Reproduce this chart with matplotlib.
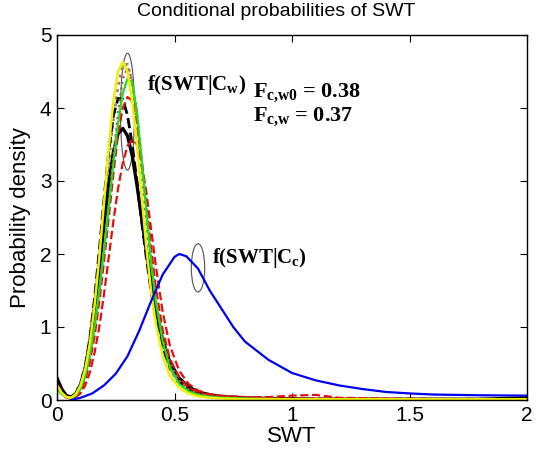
import matplotlib
matplotlib.use("Agg")
import matplotlib.pyplot as plt
from matplotlib.patches import Ellipse

plt.rcParams['font.family'] = ['Liberation Sans', 'DejaVu Sans']
plt.rcParams['mathtext.fontset'] = 'custom'
plt.rcParams['mathtext.rm'] = 'Liberation Serif:bold'
plt.rcParams['mathtext.it'] = 'Liberation Serif:bold'
plt.rcParams['mathtext.bf'] = 'Liberation Serif:bold'

# SWT grid shared by the f(SWT|Cw) curves
swt_w = [0, .02, .04, .06, .08, .10, .12, .14, .16, .18, .20, .22, .24, .26, .28,
         .30, .32, .34, .36, .38, .40, .42,
         .45, .48, .52, .56, .60, .65, .70,
         .80, .90, 1.0, 1.1, 1.2, 1.4, 1.6, 1.8, 2.0]

grey_dot = [0.22, 0.12, 0.05, 0.04, 0.10, 0.24, 0.48, 0.85, 1.35, 1.95, 2.6, 3.25, 3.85, 4.3, 4.58,
            4.6, 4.35, 3.85, 3.15, 2.45, 1.8, 1.3,
            0.75, 0.42, 0.22, 0.13, 0.08, 0.05, 0.03,
            0.02, 0.012, 0.01, 0.01, 0.01, 0.01, 0.01, 0.01, 0.01]
yellow = [0.2, 0.1, 0.04, 0.03, 0.08, 0.2, 0.42, 0.78, 1.3, 1.95, 2.7, 3.45, 4.1, 4.5, 4.63,
          4.5, 4.1, 3.5, 2.8, 2.1, 1.5, 1.05,
          0.6, 0.33, 0.17, 0.09, 0.05, 0.03, 0.02,
          0.01, 0.01, 0.01, 0.01, 0.01, 0.01, 0.01, 0.01, 0.01]
pink_dot = [0.2, 0.1, 0.04, 0.03, 0.06, 0.15, 0.33, 0.62, 1.0, 1.5, 2.05, 2.7, 3.35, 3.95, 4.4,
            4.55, 4.4, 3.95, 3.3, 2.6, 1.95, 1.4,
            0.85, 0.5, 0.27, 0.15, 0.09, 0.055, 0.035,
            0.02, 0.012, 0.01, 0.01, 0.01, 0.01, 0.01, 0.01, 0.01]
green = [0.15, 0.08, 0.04, 0.03, 0.06, 0.15, 0.33, 0.62, 1.0, 1.5, 2.05, 2.65, 3.25, 3.8, 4.2,
         4.4, 4.35, 3.95, 3.3, 2.6, 1.9, 1.35,
         0.8, 0.45, 0.22, 0.12, 0.07, 0.045, 0.03,
         0.02, 0.015, 0.012, 0.01, 0.01, 0.01, 0.01, 0.01, 0.01]
black_dash = [0.28, 0.13, 0.05, 0.04, 0.09, 0.22, 0.45, 0.85, 1.4, 2.05, 2.75, 3.4, 3.9, 4.13, 4.12,
              3.9, 3.5, 3.0, 2.45, 1.95, 1.5, 1.12,
              0.72, 0.45, 0.25, 0.15, 0.09, 0.055, 0.035,
              0.02, 0.015, 0.012, 0.01, 0.01, 0.01, 0.01, 0.01, 0.01]
red_dash1 = [0.22, 0.1, 0.04, 0.03, 0.05, 0.12, 0.27, 0.52, 0.88, 1.35, 1.9, 2.5, 3.1, 3.65, 4.0,
             4.15, 4.1, 3.8, 3.3, 2.7, 2.1, 1.55,
             0.95, 0.57, 0.3, 0.17, 0.1, 0.065, 0.045,
             0.03, 0.025, 0.02, 0.02, 0.015, 0.01, 0.01, 0.01, 0.01]
black_solid = [0.3, 0.15, 0.06, 0.04, 0.08, 0.2, 0.42, 0.78, 1.25, 1.8, 2.4, 2.95, 3.4, 3.65, 3.72,
               3.62, 3.35, 2.95, 2.5, 2.05, 1.62, 1.25,
               0.82, 0.52, 0.3, 0.18, 0.11, 0.07, 0.045,
               0.03, 0.02, 0.015, 0.01, 0.01, 0.01, 0.01, 0.01, 0.03]
red_dash2 = [0.18, 0.08, 0.03, 0.02, 0.04, 0.09, 0.2, 0.38, 0.65, 1.0, 1.45, 1.95, 2.45, 2.9, 3.25,
             3.48, 3.57, 3.5, 3.25, 2.85, 2.35, 1.85,
             1.2, 0.75, 0.4, 0.22, 0.13, 0.08, 0.06,
             0.04, 0.04, 0.06, 0.07, 0.03, 0.02, 0.015, 0.01, 0.01]

# f(SWT|Cc)
swt_c = [0.06, 0.10, 0.15, 0.20, 0.25, 0.30, 0.35, 0.40, 0.45, 0.50, 0.52, 0.55, 0.60,
         0.65, 0.70, 0.75, 0.80, 0.90, 1.0, 1.1, 1.2, 1.3, 1.4, 1.5, 1.6, 1.8, 2.0]
blue = [0.0, 0.03, 0.09, 0.2, 0.36, 0.6, 0.95, 1.35, 1.72, 1.96, 2.0, 1.97, 1.8,
        1.5, 1.25, 1.0, 0.8, 0.55, 0.37, 0.27, 0.2, 0.15, 0.11, 0.09, 0.075, 0.065, 0.06]

fig = plt.figure(figsize=(5.36, 4.51), dpi=100)
ax = fig.add_axes([57 / 536, 51 / 451, 470 / 536, 365 / 451])

ax.plot(swt_w, grey_dot, color='#808080', linestyle=':', lw=2)
ax.plot(swt_w, black_dash, color='black', linestyle='--', lw=2)
ax.plot(swt_w, black_solid, color='black', linestyle='-', lw=2.4)
ax.plot(swt_w, red_dash2, color='#e01010', linestyle='--', lw=1.6)
ax.plot(swt_w, red_dash1, color='#e01010', linestyle='--', lw=1.6)
ax.plot(swt_w, pink_dot, color='#c05050', linestyle=':', lw=1.6)
ax.plot(swt_w, green, color='#20dd20', linestyle='-', lw=1.6)
ax.plot(swt_w, yellow, color='#f0f000', linestyle='-', lw=1.8)
ax.plot(swt_c, blue, color='#0000ee', linestyle='-', lw=1.6)

ax.add_patch(Ellipse((0.30, 3.95), 0.06, 1.6, fill=False, edgecolor='#505050', lw=0.8))
ax.add_patch(Ellipse((0.60, 1.81), 0.057, 0.66, fill=False, edgecolor='#505050', lw=0.8))

ax.text(0.383, 4.31, r'$f(SWT|C_w)$', fontsize=15, va='center', ha='left')
ax.text(0.834, 4.21, r'$F_{c{,}w0}$ = 0.38', fontsize=16, va='center', ha='left',
        family='Liberation Serif', weight='bold')
ax.text(0.834, 3.88, r'$F_{c{,}w}$ = 0.37', fontsize=16, va='center', ha='left',
        family='Liberation Serif', weight='bold')
ax.text(0.66, 1.95, r'$f(SWT|C_c)$', fontsize=15, va='center', ha='left')

ax.set_xlim(0, 2)
ax.set_ylim(0, 5)
ax.set_xticks([0, 0.5, 1, 1.5, 2])
ax.set_xticklabels(['0', '0.5', '1', '1.5', '2'])
ax.set_yticks([0, 1, 2, 3, 4, 5])
ax.tick_params(direction='in', top=True, right=True, length=5, labelsize=15, pad=4)
for s in ax.spines.values():
    s.set_linewidth(1)

ax.set_xlabel('SWT', fontsize=16, labelpad=1)
ax.set_ylabel('Probability density', fontsize=16, labelpad=6)
fig.text(276 / 536, 1 - 12 / 451, 'Conditional probabilities of SWT', fontsize=14,
         ha='center', va='center')

fig.savefig('out.png', dpi=100)
